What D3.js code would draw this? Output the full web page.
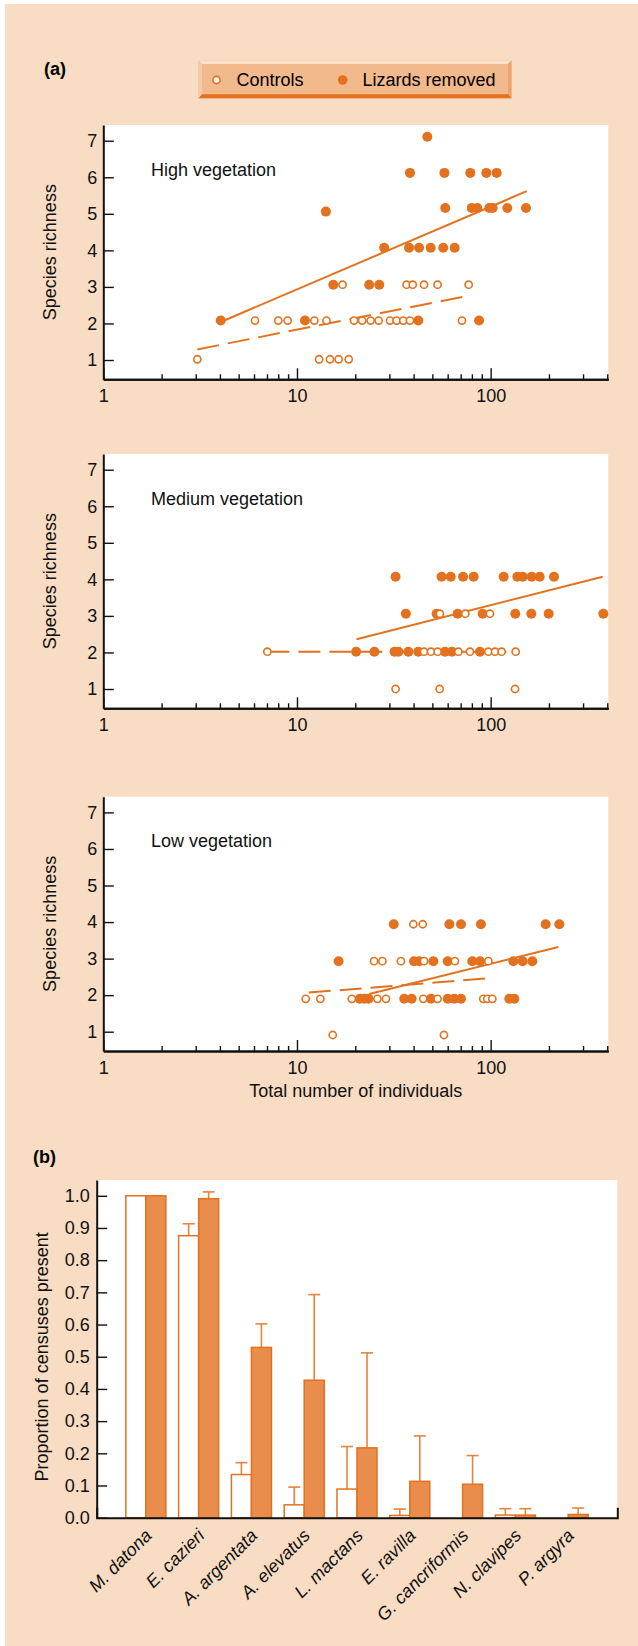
<!DOCTYPE html>
<html>
<head>
<meta charset="utf-8">
<script src="https://cdn.jsdelivr.net/npm/d3@7"></script>
<style>
  body { margin: 0; background: #fff; }
  svg { display: block; font-family: "Liberation Sans", Arial, Helvetica, sans-serif; }
</style>
</head>
<body>
<svg id="fig" width="638" height="1646"></svg>
<script>
// ---- data: panel (a), [total individuals, species richness]
const highControls = [
  [3.06,1.02],[13.0,1.02],[14.8,1.02],[16.4,1.02],[18.5,1.02],
  [6.07,2.08],[8.01,2.08],[8.95,2.08],[12.3,2.08],[14.2,2.08],[19.7,2.08],[21.7,2.08],[24.0,2.08],
  [26.4,2.08],[30.2,2.08],[32.7,2.08],[35.4,2.08],[38.3,2.08],[71.1,2.08],
  [17.2,3.06],[36.8,3.06],[39.6,3.06],[45.3,3.06],[53.2,3.06],[77.0,3.06]
];
const highRemoved = [
  [4.04,2.08],[11.0,2.08],[42.3,2.08],[87.1,2.08],
  [15.4,3.06],[23.6,3.06],[26.6,3.06],
  [28.2,4.07],[37.9,4.07],[42.7,4.07],[49.0,4.07],[56.9,4.07],[65.2,4.07],
  [14.1,5.06],[58.3,5.16],[79.8,5.16],[85.3,5.16],[98.4,5.16],[102.4,5.16],[121.9,5.16],[152.2,5.16],
  [38.3,6.12],[57.7,6.12],[78.5,6.12],[95.0,6.12],[107.4,6.12],
  [47.1,7.11]
];
const highFitRemoved = [[4.04,2.04],[153.5,5.62]];
const highFitControls = [[3.06,1.29],[78.8,2.77]];

const medControls = [
  [32.3,1.0],[54.5,1.0],[133.6,1.0],
  [7.03,2.02],[45.3,2.02],[49.2,2.02],[53.2,2.02],[68.1,2.02],[78.2,2.02],[97.3,2.02],
  [105.3,2.02],[113.9,2.02],[134.6,2.02],
  [54.7,3.06],[74.0,3.06],[99.2,3.06]
];
const medRemoved = [
  [20.2,2.02],[25.1,2.02],[31.9,2.02],[33.4,2.02],[37.6,2.02],[42.3,2.02],[58.1,2.02],[63.1,2.02],[88.1,2.02],
  [36.5,3.06],[52.6,3.06],[67.5,3.06],[90.9,3.06],[134.0,3.06],[162.2,3.06],[199.3,3.06],[381.8,3.06],
  [32.3,4.07],[55.8,4.07],[62.2,4.07],[72.0,4.07],[81.7,4.07],[116.7,4.07],[137.3,4.07],
  [146.3,4.07],[162.8,4.07],[179.1,4.07],[212.4,4.07]
];
const medFitRemoved = [[20.3,2.36],[378.8,4.07]];
const medFitControls = [[7.03,2.02],[134.6,2.02]];

const lowControls = [
  [15.3,0.91],[57.4,0.91],
  [11.1,1.9],[13.2,1.9],[19.2,1.9],[26.0,1.9],[28.8,1.9],[44.9,1.9],[53.2,1.9],[91.6,1.9],[96.1,1.9],[102.0,1.9],
  [25.0,2.93],[27.6,2.93],[34.4,2.93],[45.3,2.93],[65.4,2.93],[97.3,2.93],
  [39.9,3.94],[44.6,3.94]
];
const lowRemoved = [
  [21.1,1.9],[22.3,1.9],[23.4,1.9],[35.8,1.9],[39.1,1.9],[49.2,1.9],[60.0,1.9],[64.9,1.9],[70.3,1.9],
  [124.8,1.9],[132.5,1.9],
  [16.4,2.93],[40.2,2.93],[42.8,2.93],[50.6,2.93],[60.0,2.93],[80.4,2.93],[88.1,2.93],
  [130.9,2.93],[146.3,2.93],[164.1,2.93],
  [31.6,3.94],[61.2,3.94],[70.3,3.94],[89.1,3.94],[192.3,3.94],[226.2,3.94]
];
const lowFitRemoved = [[23.6,2.03],[223.6,3.32]];
const lowFitControls = [[11.5,2.07],[102.0,2.47]];

const panelLabels = ['High vegetation', 'Medium vegetation', 'Low vegetation'];
const xMajorTicks = [1, 10, 100];
const xMinorTicks = [2,3,4,5,6,7,8,9,20,30,40,50,60,70,80,90,200,300,400];
const yRichTicks = [1,2,3,4,5,6,7];

// ---- data: panel (b)
const species = ['M. datona','E. cazieri','A. argentata','A. elevatus','L. mactans',
                 'E. ravilla','G. cancriformis','N. clavipes','P. argyra'];
const ctrlMean = [1.0, 0.876, 0.134, 0.040, 0.089, 0.007, 0, 0.008, 0];
const ctrlSE   = [0, 0.037, 0.037, 0.055, 0.132, 0.020, 0, 0.020, 0];
const remMean  = [1.0, 0.991, 0.529, 0.427, 0.217, 0.113, 0.104, 0.008, 0.010];
const remSE    = [0, 0.021, 0.073, 0.266, 0.295, 0.141, 0.089, 0.020, 0.020];
const yPropTicks = d3.range(0, 11).map(i => i / 10);

// ---- styles
const ORANGE = '#e2721f';
const BAR_FILL = '#e88d4b';
const PEACH = '#f8dcc3';
const FONT = 18;

const svg = d3.select('#fig');

// peach panel with thin white margin on left/top
svg.append('rect').attr('x', 5).attr('y', 4).attr('width', 633).attr('height', 1642).attr('fill', PEACH);

svg.append('text').attr('x', 44).attr('y', 75).text('(a)')
  .attr('font-size', 18).attr('font-weight', 'bold');

// legend box with bevel
(function legend() {
  const x0 = 198.5, y0 = 60.5, x1 = 511.5, y1 = 98.3, b = 3.5, bb = 4;
  const g = svg.append('g');
  g.append('rect').attr('x', x0).attr('y', y0).attr('width', x1 - x0).attr('height', y1 - y0).attr('fill', '#f2b98c');
  const poly = (pts, fill) => g.append('polygon').attr('points', pts.map(p => p.join(',')).join(' ')).attr('fill', fill);
  poly([[x0,y0],[x1,y0],[x1-b,y0+b],[x0+b,y0+b]], '#fbe1c8');
  poly([[x0,y0],[x0+b,y0+b],[x0+b,y1-bb],[x0,y1]], '#f6caa4');
  poly([[x1,y0],[x1,y1],[x1-b,y1-bb],[x1-b,y0+b]], '#eda36b');
  poly([[x0,y1],[x1,y1],[x1-b,y1-bb],[x0+b,y1-bb]], ORANGE);
  g.append('circle').attr('cx', 216.5).attr('cy', 80).attr('r', 3.6)
    .attr('fill', '#fff').attr('stroke', ORANGE).attr('stroke-width', 1.6);
  g.append('text').attr('x', 236.5).attr('y', 86.3).text('Controls').attr('font-size', 18);
  g.append('circle').attr('cx', 342.7).attr('cy', 80).attr('r', 4.8).attr('fill', ORANGE);
  g.append('text').attr('x', 362.5).attr('y', 86.3).text('Lizards removed').attr('font-size', 18);
})();

// ---- scatter panels
const panels = [
  { label: panelLabels[0], off: 0,     ctrl: highControls, rem: highRemoved, fitC: highFitControls, fitR: highFitRemoved },
  { label: panelLabels[1], off: 329,   ctrl: medControls,  rem: medRemoved,  fitC: medFitControls,  fitR: medFitRemoved },
  { label: panelLabels[2], off: 671.7, ctrl: lowControls,  rem: lowRemoved,  fitC: lowFitControls,  fitR: lowFitRemoved },
];

const x = d3.scaleLog().domain([1, 405]).range([103.3, 608.3]);

panels.forEach((p, i) => {
  const top = 125 + p.off, bottom = 379.3 + p.off;
  const y = d3.scaleLinear().domain([0.472, 7.43]).range([bottom, top]);
  const g = svg.append('g');

  g.append('rect').attr('x', 103.3).attr('y', top).attr('width', 505).attr('height', bottom - top).attr('fill', '#fff');

  // axes
  const gx = g.append('g').attr('transform', `translate(0,${bottom})`);
  gx.call(d3.axisBottom(x).tickValues(xMinorTicks).tickSize(-5).tickSizeOuter(0).tickFormat(''));
  gx.append('g').call(d3.axisBottom(x).tickValues(xMajorTicks).tickSize(-11).tickSizeOuter(0)
    .tickPadding(10).tickFormat(d3.format('d')));
  const gy = g.append('g').attr('transform', 'translate(103.3,0)')
    .call(d3.axisLeft(y).tickValues(yRichTicks).tickSize(-10.5).tickSizeOuter(0)
      .tickPadding(6).tickFormat(d3.format('d')));
  [gx, gy].forEach(a => {
    a.selectAll('.domain').attr('stroke', '#111').attr('stroke-width', 2);
    a.selectAll('.tick line').attr('stroke', '#111').attr('stroke-width', 1.4);
    a.selectAll('text').attr('font-size', FONT).attr('font-family', null).attr('fill', '#111');
  });

  g.append('text').attr('transform', `translate(56,${(top + bottom) / 2}) rotate(-90)`)
    .attr('text-anchor', 'middle').attr('font-size', 18).attr('fill', '#111').text('Species richness');

  g.append('text').attr('x', 151).attr('y', 175.7 + p.off).attr('font-size', 18).attr('fill', '#111').text(p.label);

  // fitted lines
  const line = d3.line().x(d => x(d[0])).y(d => y(d[1]));
  g.append('path').datum(p.fitR).attr('d', line).attr('fill', 'none')
    .attr('stroke', ORANGE).attr('stroke-width', 2);
  g.append('path').datum(p.fitC).attr('d', line).attr('fill', 'none')
    .attr('stroke', ORANGE).attr('stroke-width', 2).attr('stroke-dasharray', '22,9');

  g.append('g').selectAll('circle').data(p.rem).join('circle')
    .attr('cx', d => x(d[0])).attr('cy', d => y(d[1])).attr('r', 5).attr('fill', ORANGE);
  g.append('g').selectAll('circle').data(p.ctrl).join('circle')
    .attr('cx', d => x(d[0])).attr('cy', d => y(d[1])).attr('r', 3.6)
    .attr('fill', '#fff').attr('stroke', ORANGE).attr('stroke-width', 1.6);
});

svg.append('text').attr('x', 355.8).attr('y', 1097).attr('text-anchor', 'middle')
  .attr('font-size', 18).attr('fill', '#111').text('Total number of individuals');

// ---- bar chart (b)
svg.append('text').attr('x', 33).attr('y', 1163).text('(b)')
  .attr('font-size', 18).attr('font-weight', 'bold');

const bTop = 1180, bBottom = 1517.7, bLeft = 96.7, bRight = 617.3;
const xb = d3.scaleBand().domain(species).range([bLeft, bRight]).paddingInner(0.242).paddingOuter(0.552);
const xs = d3.scaleBand().domain(['c', 'r']).range([0, xb.bandwidth()]);
const yb = d3.scaleLinear().domain([0, 1.049]).range([bBottom, bTop]);

const gb = svg.append('g');
gb.append('rect').attr('x', bLeft).attr('y', bTop).attr('width', bRight - bLeft).attr('height', bBottom - bTop).attr('fill', '#fff');

const rows = species.map((s, i) => ({ s, cm: ctrlMean[i], cs: ctrlSE[i], rm: remMean[i], rs: remSE[i] }));

// error bars (upper only)
const errs = [];
rows.forEach(r => {
  if (r.cs > 0) errs.push({ cx: xb(r.s) + xs('c') + xs.bandwidth() / 2, lo: r.cm, hi: r.cm + r.cs });
  if (r.rs > 0) errs.push({ cx: xb(r.s) + xs('r') + xs.bandwidth() / 2, lo: r.rm, hi: r.rm + r.rs });
});
const ge = gb.append('g').attr('stroke', '#e8833d').attr('stroke-width', 1.6);
ge.selectAll('.v').data(errs).join('line').attr('class', 'v')
  .attr('x1', d => d.cx).attr('x2', d => d.cx).attr('y1', d => yb(d.lo)).attr('y2', d => yb(d.hi));
ge.selectAll('.cap').data(errs).join('line').attr('class', 'cap')
  .attr('x1', d => d.cx - 6).attr('x2', d => d.cx + 6).attr('y1', d => yb(d.hi)).attr('y2', d => yb(d.hi));

gb.append('g').selectAll('rect').data(rows.filter(r => r.cm > 0)).join('rect')
  .attr('x', d => xb(d.s) + xs('c')).attr('y', d => yb(d.cm))
  .attr('width', xs.bandwidth()).attr('height', d => bBottom - yb(d.cm))
  .attr('fill', '#fff').attr('stroke', ORANGE).attr('stroke-width', 1.5);
gb.append('g').selectAll('rect').data(rows.filter(r => r.rm > 0)).join('rect')
  .attr('x', d => xb(d.s) + xs('r')).attr('y', d => yb(d.rm))
  .attr('width', xs.bandwidth()).attr('height', d => bBottom - yb(d.rm))
  .attr('fill', BAR_FILL).attr('stroke', ORANGE).attr('stroke-width', 1.5);

const gbx = gb.append('g').attr('transform', `translate(0,${bBottom})`)
  .call(d3.axisBottom(xb).tickValues([]).tickSizeOuter(-10));
const gby = gb.append('g').attr('transform', `translate(${bLeft},0)`)
  .call(d3.axisLeft(yb).tickValues(yPropTicks).tickFormat(d3.format('.1f'))
    .tickSize(-10.5).tickSizeOuter(0).tickPadding(7));
[gbx, gby].forEach(a => {
  a.selectAll('.domain').attr('stroke', '#111').attr('stroke-width', 2);
  a.selectAll('.tick line').attr('stroke', '#111').attr('stroke-width', 1.4);
  a.selectAll('text').attr('font-size', FONT).attr('font-family', null).attr('fill', '#111');
});

gb.append('g').selectAll('text').data(species).join('text')
  .attr('transform', d => `translate(${xb(d) + xb.bandwidth() / 2 + 7},${bBottom + 19}) rotate(-45)`)
  .attr('text-anchor', 'end').attr('font-size', 18).attr('font-style', 'italic').attr('fill', '#111')
  .text(d => d);

svg.append('text').attr('transform', `translate(48,${(bTop + bBottom) / 2 + 8}) rotate(-90)`)
  .attr('text-anchor', 'middle').attr('font-size', 18).attr('fill', '#111').text('Proportion of censuses present');
</script>
</body>
</html>
